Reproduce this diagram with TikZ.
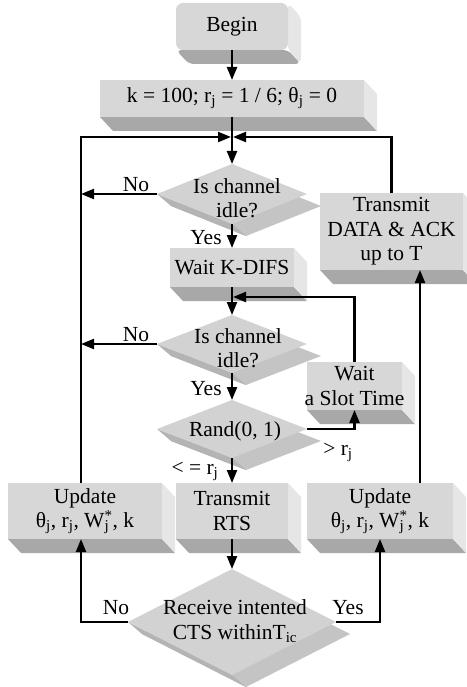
\documentclass[tikz,border=0pt]{standalone}
\usepackage{fontspec}
\IfFontExistsTF{LiberationSerif-Regular.ttf}
  {\setmainfont{LiberationSerif-Regular.ttf}[BoldFont=LiberationSerif-Bold.ttf,ItalicFont=LiberationSerif-Italic.ttf]}
  {\setmainfont{Liberation Serif}}
\usetikzlibrary{arrows.meta,shapes.geometric,calc,backgrounds}
\definecolor{bfront}{HTML}{D7D7D7}
\definecolor{bbottom}{HTML}{A8A8A8}
\definecolor{bright}{HTML}{E6E6E6}
\definecolor{dfront}{HTML}{D2D2D2}
\definecolor{dlow}{HTML}{B4B4B4}
\definecolor{dright}{HTML}{C4C4C4}
\newcommand\boxsides[2][]{%
  \fill[bbottom,#1] (#2.south west) -- (#2.south east) -- ([shift={(13,14)}]#2.south east) -- ([shift={(13,14)}]#2.south west) -- cycle;
  \fill[bright,#1] (#2.north east) -- ([shift={(13,14)}]#2.north east) -- ([shift={(13,14)}]#2.south east) -- (#2.south east) -- cycle;
}
\newcommand\diasides[1]{%
  \fill[dright] ([shift={(14,12)}]#1.north) -- ([shift={(14,12)}]#1.east) -- ([shift={(14,12)}]#1.south) -- ([shift={(14,12)}]#1.west) -- cycle;
  \fill[dlow] (#1.west) -- (#1.south) -- ([shift={(14,12)}]#1.south) -- ([shift={(14,12)}]#1.west) -- cycle;
}
\newcommand\wstar{W\rlap{\textsubscript{j}}\textsuperscript{*}}
\begin{document}
\begin{tikzpicture}[x=1pt,y=-1pt,
  font=\fontsize{21.5}{24.5}\selectfont,
  box/.style={rectangle, fill=bfront, inner sep=0pt, outer sep=0pt, align=center},
  dia/.style={diamond, fill=dfront, inner sep=0pt, outer sep=0pt},
  lbl/.style={inner sep=0pt, outer sep=0pt, align=center},
  arr/.style={line width=2.2pt, -{Triangle[length=13pt,width=10pt]}}]
\useasboundingbox (0,0) rectangle (466,687);
% boxes
\node[box, rounded corners=7pt, minimum width=112pt, minimum height=47pt] (begin) at (232,26.5) {Begin};
\node[box, minimum width=264pt, minimum height=37pt] (init) at (232,98.5) {k = 100; r\textsubscript{j} = 1 / 6; θ\textsubscript{j} = 0};
\node[box, minimum width=124pt, minimum height=39pt] (wk) at (232,267.5) {Wait K-DIFS};
\node[box, minimum width=143pt, minimum height=77pt] (tda) at (391.5,231.5) {Transmit\\DATA \& ACK\\up to T};
\node[box, minimum width=95pt, minimum height=48pt] (wst) at (354.5,386) {Wait\\\makebox[0pt]{a Slot Time}};
\node[box, minimum width=112pt, minimum height=56pt] (rts) at (232,511) {Transmit\\RTS};
\node[box, minimum width=154pt, minimum height=56pt] (upd1) at (85,511) {Update\\θ\textsubscript{j}, r\textsubscript{j}, \wstar, k};
\node[box, minimum width=146pt, minimum height=56pt] (upd2) at (380,511) {Update\\θ\textsubscript{j}, r\textsubscript{j}, \wstar, k};
% diamonds
\node[dia, minimum width=150pt, minimum height=60pt] (d1) at (232,194) {};
\node[dia, minimum width=150pt, minimum height=58pt] (d2) at (232,344) {};
\node[dia, minimum width=150pt, minimum height=58pt] (d3) at (232,429) {};
\node[dia, minimum width=208pt, minimum height=106pt] (d4) at (232,622) {};
\node[lbl] (d1t) at ($(d1)+(5,4)$) {Is channel\\idle?};
\node[lbl] (d2t) at ($(d2)+(6,4)$) {Is channel\\idle?};
\node[lbl] (d3t) at ($(d3)+(3,2)$) {Rand(0, 1)};
\node[lbl] (d4t) at ($(d4)+(3,-1)$) {Receive intented\\CTS withinT\textsubscript{ic}};
\begin{scope}[on background layer]
  \boxsides[rounded corners=5pt]{begin}
  \boxsides{init}
  \boxsides{wk}
  \boxsides{tda}
  \boxsides{wst}
  \boxsides{rts}
  \boxsides{upd1}
  \boxsides{upd2}
  \diasides{d1}
  \diasides{d2}
  \diasides{d3}
  \diasides{d4}
\end{scope}
% connectors
\coordinate (jn) at (232,137);
\coordinate (jn2) at (232,297);
\coordinate (lft) at ([shift={(-4,0)}]upd1.north);
\draw[arr] (begin.south) -- (init.north);
\draw[arr] (init.south) -- (d1.north);
\draw[arr] (lft) |- ([shift={(-1,0)}]jn);
\draw[arr] (tda.north) |- ([shift={(1,0)}]jn);
\draw[arr] (d1.west) -- (d1.west -| lft);
\draw[arr] (d1.south) -- (wk.north);
\draw[arr] (wk.south) -- (d2.north);
\draw[arr] (wst.north) |- ([shift={(1,0)}]jn2);
\draw[arr] (d2.west) -- (d2.west -| lft);
\draw[arr] (d2.south) -- (d3.north);
\draw[arr] (d3.east) -| (wst.south);
\draw[arr] (d3.south) -- (rts.north);
\draw[arr] (rts.south) -- (d4.north);
\draw[arr] (d4.west) -| ([shift={(-4,0)}]upd1.south);
\draw[arr] (d4.east) -| (upd2.south);
\draw[arr] ([shift={(40,0)}]upd2.north) -- ([shift={(40,0)}]upd2.north |- tda.south);
% labels
\node[lbl] (no1) at (136,185) {No};
\node[lbl] (yes1) at (206,238) {Yes};
\node[lbl] (no2) at (136,335) {No};
\node[lbl] (yes2) at (206,389) {Yes};
\node[lbl] (gt) at (338,452) {> r\textsubscript{j}};
\node[lbl] (le) at (195,471) {< = r\textsubscript{j}};
\node[lbl] (no4) at (116,608) {No};
\node[lbl] (yes4) at (348,608) {Yes};
\end{tikzpicture}
\end{document}
